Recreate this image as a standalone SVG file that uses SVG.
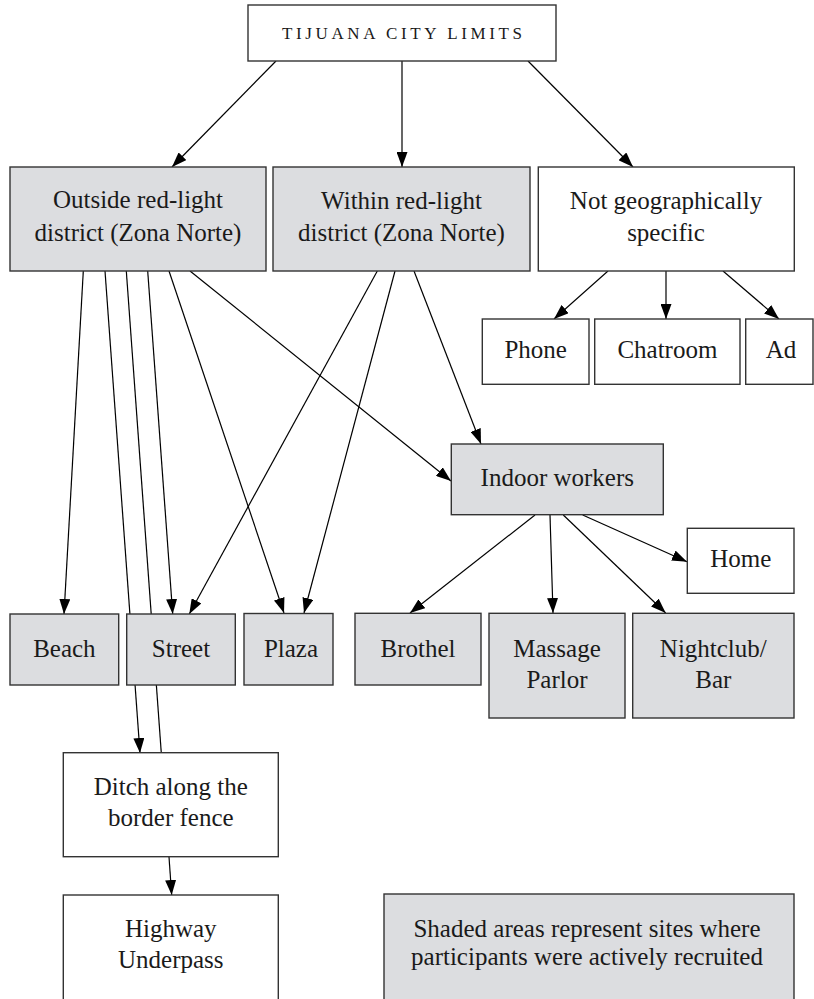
<svg xmlns="http://www.w3.org/2000/svg" width="814" height="999" viewBox="0 0 814 999">
<style>
  .box { fill: #ffffff; stroke: #333333; stroke-width: 1.4; }
  .shd { fill: #dcdde0; stroke: #333333; stroke-width: 1.4; }
  .t { font-family: "Liberation Serif", "Times New Roman", serif; font-size: 25px; fill: #1a1a1a; text-anchor: middle; }
  .title { font-family: "Liberation Serif", "Times New Roman", serif; font-size: 17px; fill: #1a1a1a; }
  .c { stroke: #000000; stroke-width: 1.2; fill: none; }
  .a { marker-end: url(#ah); }
</style>
<defs>
  <marker id="ah" viewBox="0 0 15 11" refX="15" refY="5.5" markerWidth="15" markerHeight="11" orient="auto" markerUnits="userSpaceOnUse">
    <path d="M0,0 L15,5.5 L0,11 z" fill="#000000"/>
  </marker>
</defs>
<rect width="814" height="999" fill="#ffffff"/>

<g id="connectors">
  <line class="c a" x1="276" y1="61" x2="172" y2="167"/>
  <line class="c a" x1="402" y1="61" x2="402" y2="167"/>
  <line class="c a" x1="528" y1="61" x2="633" y2="167"/>
  <line class="c a" x1="608" y1="271" x2="554" y2="319"/>
  <line class="c a" x1="666" y1="271" x2="666" y2="319"/>
  <line class="c a" x1="723" y1="271" x2="779" y2="319"/>
  <line class="c a" x1="83.3" y1="271" x2="64" y2="614"/>
  <line class="c a" x1="105" y1="271" x2="140" y2="753"/>
  <line class="c" x1="126.3" y1="271" x2="161.3" y2="753"/>
  <line class="c a" x1="147.7" y1="271" x2="172.7" y2="614"/>
  <line class="c a" x1="169" y1="271" x2="284" y2="613"/>
  <line class="c a" x1="190" y1="271" x2="451" y2="481"/>
  <line class="c a" x1="377.3" y1="271" x2="189.3" y2="614"/>
  <line class="c a" x1="395" y1="271" x2="304" y2="613"/>
  <line class="c a" x1="414" y1="271" x2="481" y2="444"/>
  <line class="c a" x1="535" y1="515" x2="410" y2="613"/>
  <line class="c a" x1="550" y1="515" x2="553" y2="613"/>
  <line class="c a" x1="563.3" y1="515" x2="665.7" y2="613"/>
  <line class="c a" x1="582.7" y1="515" x2="687" y2="561.7"/>
  <line class="c a" x1="169" y1="857" x2="171.7" y2="895"/>
</g>

<g id="title">
  <rect class="box" x="248" y="5" width="308" height="56"/>
  <text class="title" x="282" y="39" textLength="240" lengthAdjust="spacing">TIJUANA CITY LIMITS</text>
</g>
<g id="outside">
  <rect class="shd" x="10" y="167" width="256" height="104"/>
  <text class="t" x="138" y="208">Outside red-light</text>
  <text class="t" x="138" y="241">district (Zona Norte)</text>
</g>
<g id="within">
  <rect class="shd" x="273" y="167" width="257" height="104"/>
  <text class="t" x="401.5" y="208.5">Within red-light</text>
  <text class="t" x="401.5" y="241">district (Zona Norte)</text>
</g>
<g id="notgeo">
  <rect class="box" x="538.3" y="167" width="256" height="104"/>
  <text class="t" x="666" y="209">Not geographically</text>
  <text class="t" x="666" y="240.5">specific</text>
</g>
<g id="phone">
  <rect class="box" x="482.3" y="319" width="106.7" height="65.3"/>
  <text class="t" x="535.7" y="358.3">Phone</text>
</g>
<g id="chatroom">
  <rect class="box" x="594.7" y="319" width="145.3" height="65.3"/>
  <text class="t" x="667.4" y="358.3">Chatroom</text>
</g>
<g id="ad">
  <rect class="box" x="745.7" y="319" width="67.3" height="65.3"/>
  <text class="t" x="781" y="358.3">Ad</text>
</g>
<g id="indoor">
  <rect class="shd" x="451.3" y="444" width="212" height="70.7"/>
  <text class="t" x="557.3" y="486">Indoor workers</text>
</g>
<g id="home">
  <rect class="box" x="687.3" y="528.3" width="106.7" height="65"/>
  <text class="t" x="740.7" y="566.7">Home</text>
</g>
<g id="beach">
  <rect class="shd" x="10" y="614" width="108.7" height="71"/>
  <text class="t" x="64.4" y="656.5">Beach</text>
</g>
<g id="street">
  <rect class="shd" x="126.7" y="614" width="108.6" height="71"/>
  <text class="t" x="181" y="656.5">Street</text>
</g>
<g id="plaza">
  <rect class="shd" x="244" y="613.5" width="89" height="71.5"/>
  <text class="t" x="291" y="656.5">Plaza</text>
</g>
<g id="brothel">
  <rect class="shd" x="355" y="613.3" width="126" height="71.7"/>
  <text class="t" x="418" y="656.7">Brothel</text>
</g>
<g id="massage">
  <rect class="shd" x="489" y="613.3" width="136" height="104.7"/>
  <text class="t" x="557" y="656.7">Massage</text>
  <text class="t" x="557" y="687.7">Parlor</text>
</g>
<g id="nightclub">
  <rect class="shd" x="632.7" y="613.3" width="161.3" height="104.7"/>
  <text class="t" x="713.3" y="656.7">Nightclub/</text>
  <text class="t" x="713.3" y="687.7">Bar</text>
</g>
<g id="ditch">
  <rect class="box" x="63.3" y="752.7" width="215" height="104"/>
  <text class="t" x="170.8" y="795">Ditch along the</text>
  <text class="t" x="170.8" y="825.7">border fence</text>
</g>
<g id="highway">
  <rect class="box" x="63.3" y="895" width="215" height="110"/>
  <text class="t" x="170.8" y="937">Highway</text>
  <text class="t" x="170.8" y="968">Underpass</text>
</g>
<g id="legend">
  <rect class="shd" x="384" y="894" width="410" height="111"/>
  <text class="t" x="587" y="936.7">Shaded areas represent sites where</text>
  <text class="t" x="587" y="965">participants were actively recruited</text>
</g>
</svg>
